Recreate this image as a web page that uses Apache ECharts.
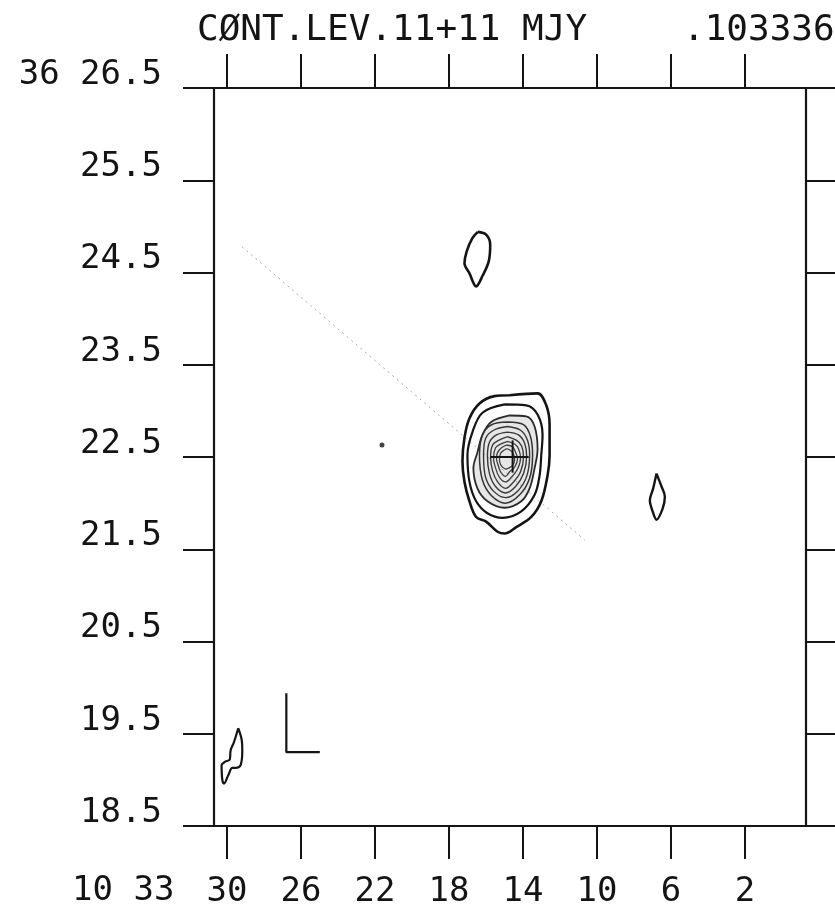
<!DOCTYPE html>
<html>
<head>
<meta charset="utf-8">
<title>CONT.LEV.11+11 MJY</title>
<script src="https://cdn.jsdelivr.net/npm/echarts@6/dist/echarts.min.js"></script>
<style>
  html, body { margin: 0; padding: 0; background: #ffffff; }
  #chart { width: 835px; height: 912px; }
</style>
</head>
<body>
<div id="chart"></div>
<script>
// Right ascension (seconds, 10h33m..) and declination (arcmin, 36d..) ticks
const raTicks = [30, 26, 22, 18, 14, 10, 6, 2];
const decTicks = [18.5, 19.5, 20.5, 21.5, 22.5, 23.5, 24.5, 25.5, 26.5];

// Contours of the central source, outermost (11 mJy) inwards; [RA s, Dec ']
const core1 = [[14.72,23.17],[13.21,23.19],[12.74,23.06],[12.56,22.85],[12.56,22.52],[12.67,22.30],[13.01,22.02],[13.55,21.85],[14.36,21.74],[14.99,21.67],[15.37,21.69],[15.99,21.80],[16.53,21.85],[16.89,22.02],[17.16,22.23],[17.27,22.45],[17.16,22.71],[16.89,22.92],[16.35,23.08],[15.54,23.16]];
const core2 = [[14.99,23.07],[13.82,23.06],[13.21,22.96],[12.94,22.74],[13.01,22.52],[13.10,22.30],[13.37,22.09],[14.09,21.91],[15.10,21.84],[15.92,21.89],[16.53,22.02],[16.89,22.23],[17.00,22.52],[16.73,22.77],[16.19,22.98]];
const core3 = [[14.72,22.95],[13.82,22.94],[13.37,22.83],[13.21,22.58],[13.37,22.38],[13.64,22.16],[14.09,22.02],[14.99,21.95],[15.92,22.02],[16.46,22.16],[16.68,22.38],[16.46,22.55],[16.19,22.74],[15.72,22.88]];
const core4 = [[14.83,22.88],[13.97,22.85],[13.59,22.72],[13.48,22.52],[13.64,22.27],[14.18,22.09],[14.94,22.00],[15.70,22.08],[16.19,22.25],[16.35,22.52],[16.19,22.74],[15.70,22.85]];
const core5 = [[14.83,22.83],[14.13,22.79],[13.75,22.68],[13.64,22.52],[13.80,22.29],[14.29,22.13],[14.94,22.06],[15.59,22.13],[16.02,22.28],[16.13,22.52],[16.02,22.70],[15.59,22.79]];
const core6 = [[14.83,22.77],[14.24,22.74],[13.91,22.65],[13.80,22.51],[13.97,22.32],[14.40,22.18],[14.94,22.11],[15.48,22.18],[15.81,22.32],[15.92,22.51],[15.81,22.66],[15.43,22.74]];
const core7 = [[14.83,22.72],[14.34,22.68],[14.07,22.62],[13.97,22.50],[14.13,22.34],[14.51,22.23],[14.94,22.16],[15.37,22.23],[15.64,22.35],[15.75,22.50],[15.64,22.63],[15.32,22.68]];
const core8 = [[14.83,22.67],[14.45,22.64],[14.24,22.59],[14.13,22.49],[14.29,22.37],[14.62,22.28],[14.94,22.23],[15.27,22.28],[15.48,22.38],[15.59,22.49],[15.48,22.60],[15.21,22.64]];
const core9 = [[14.89,22.63],[14.56,22.61],[14.40,22.55],[14.29,22.48],[14.45,22.39],[14.72,22.34],[14.94,22.29],[15.21,22.34],[15.32,22.40],[15.43,22.48],[15.37,22.55],[15.16,22.60]];
const core10 = [[14.89,22.59],[14.67,22.57],[14.51,22.53],[14.45,22.47],[14.56,22.41],[14.77,22.38],[14.94,22.37],[15.10,22.39],[15.21,22.42],[15.27,22.47],[15.21,22.54],[15.05,22.57]];

// Isolated lowest-level contours
const northBlob = [[16.44,24.94],[15.99,24.91],[15.77,24.80],[15.85,24.62],[16.17,24.47],[16.53,24.35],[16.89,24.49],[17.16,24.60],[17.04,24.73],[16.74,24.87]];
const eastBlob = [[6.78,22.32],[6.51,22.18],[6.33,22.07],[6.45,21.94],[6.78,21.82],[6.99,21.91],[7.14,22.03],[6.96,22.16]];
const southWestBlob = [[29.39,19.56],[29.20,19.43],[29.17,19.32],[29.26,19.16],[29.53,19.13],[29.71,19.13],[29.93,19.05],[30.16,18.96],[30.25,19.00],[30.29,19.16],[30.07,19.20],[29.85,19.22],[29.80,19.32],[29.62,19.41]];

// Optical position cross, beam marker, stray pencil line and dot
const crossH = [[15.75,22.50],[13.69,22.50]];
const crossV = [[14.56,22.68],[14.56,22.33]];
const beamMark = [[26.79,19.94],[26.79,19.30],[24.98,19.30]];
const strayLine = [[29.19,24.78],[10.66,21.60]];
const strayDot = [[21.62,22.63]];

const FONT = 'DejaVu Sans Mono';
const INK = '#141414';

function closed(ring) { return ring.concat([ring[0]]); }

function ringSeries(ring, width, color) {
  return {
    type: 'line', data: closed(ring), smooth: 0.35, symbol: 'none',
    lineStyle: { color: color, width: width }, silent: true, animation: false, z: 3
  };
}

function plainLine(points, width, extra) {
  return Object.assign({
    type: 'line', data: points, symbol: 'none', silent: true, animation: false,
    lineStyle: { color: INK, width: width }, z: 4
  }, extra || {});
}

const axisLineStyle = { onZero: false, lineStyle: { color: INK, width: 2.2 } };
const tickStyle = { color: INK, width: 2 };

const chart = echarts.init(document.getElementById('chart'), null, { renderer: 'canvas' });

const option = {
  backgroundColor: '#ffffff',
  animation: false,
  title: [
    { text: 'CØNT.LEV.11+11 MJY', left: 192, top: 8,
      textStyle: { fontFamily: FONT, fontSize: 36, fontWeight: 'normal', color: INK } },
    { text: '.103336', left: 678, top: 8,
      textStyle: { fontFamily: FONT, fontSize: 36, fontWeight: 'normal', color: INK } }
  ],
  graphic: [
    { type: 'text', left: 72, top: 874,
      style: { text: '10 33', font: '34px "DejaVu Sans Mono"', fill: INK } }
  ],
  grid: { left: 214, right: 29, top: 88, bottom: 86, containLabel: false, outerBoundsMode: 'none' },
  xAxis: [
    {
      type: 'value', position: 'bottom', inverse: true, min: -1.3, max: 30.7,
      axisLine: axisLineStyle, splitLine: { show: false },
      axisTick: { show: true, inside: false, length: 33, customValues: raTicks, lineStyle: tickStyle },
      axisLabel: { show: true, customValues: raTicks, margin: 49, fontFamily: FONT, fontSize: 34, color: INK,
        formatter: v => String(v) }
    },
    {
      type: 'value', position: 'top', inverse: true, min: -1.3, max: 30.7,
      axisLine: axisLineStyle, splitLine: { show: false },
      axisTick: { show: true, inside: false, length: 34, customValues: raTicks, lineStyle: tickStyle },
      axisLabel: { show: false }
    }
  ],
  yAxis: [
    {
      type: 'value', position: 'left', min: 18.5, max: 26.5,
      axisLine: axisLineStyle, splitLine: { show: false },
      axisTick: { show: true, inside: false, length: 31, customValues: decTicks, lineStyle: tickStyle },
      axisLabel: { show: true, customValues: decTicks, margin: 52, fontFamily: FONT, fontSize: 34, color: INK,
        verticalAlign: 'bottom', align: 'right', lineHeight: 26,
        formatter: v => (v === 26.5 ? '36 ' : '') + v.toFixed(1) }
    },
    {
      type: 'value', position: 'right', min: 18.5, max: 26.5,
      axisLine: axisLineStyle, splitLine: { show: false },
      axisTick: { show: true, inside: false, length: 30, customValues: decTicks, lineStyle: tickStyle },
      axisLabel: { show: false }
    }
  ],
  series: [
    // stippled grey fill inside the bright inner contours
    {
      type: 'custom', data: [0], silent: true, animation: false, z: 2,
      renderItem: function (params, api) {
        return {
          type: 'polygon',
          shape: { points: core3.map(p => api.coord(p)), smooth: 0.4 },
          style: { fill: 'rgba(140,140,140,0.22)' }
        };
      }
    },
    plainLine(strayLine, 1, { lineStyle: { color: '#8c8c8c', width: 1, type: [2, 4], opacity: 0.75 }, z: 1 }),
    { type: 'scatter', data: strayDot, symbolSize: 5, itemStyle: { color: INK }, silent: true, animation: false },
    ringSeries(core1, 2.6, INK),
    ringSeries(core2, 2.2, INK),
    ringSeries(core3, 1.8, '#2a2a2a'),
    ringSeries(core4, 1.5, '#333'),
    ringSeries(core5, 1.4, '#383838'),
    ringSeries(core6, 1.4, '#383838'),
    ringSeries(core7, 1.4, '#3c3c3c'),
    ringSeries(core8, 1.3, '#404040'),
    ringSeries(core9, 1.3, '#404040'),
    ringSeries(core10, 1.3, '#444'),
    ringSeries(northBlob, 2.6, INK),
    ringSeries(eastBlob, 2.4, INK),
    ringSeries(southWestBlob, 2.2, INK),
    plainLine(crossH, 2),
    plainLine(crossV, 2),
    plainLine(beamMark, 2.2)
  ]
};

chart.setOption(option);
</script>
</body>
</html>
